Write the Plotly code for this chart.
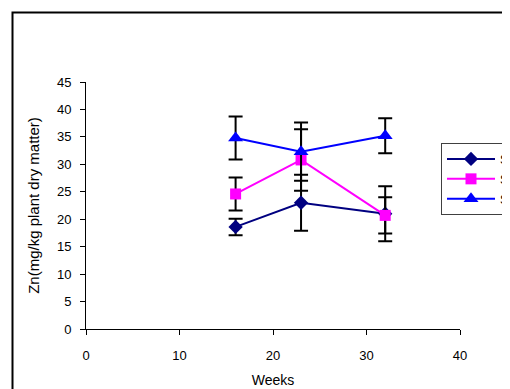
import plotly.graph_objects as go

weeks = [16, 23, 32]
names = ["Site 1", "Site 2", "Site 3"]
s1 = [18.6, 23.0, 21.0]
s1_err = [1.5, 5.1, 5.0]
s2 = [24.6, 30.8, 20.7]
s2_err = [3.0, 5.6, 3.3]
s3 = [34.8, 32.3, 35.2]
s3_err = [3.9, 5.3, 3.2]

x_ticks = [0, 10, 20, 30, 40]
y_ticks = [0, 5, 10, 15, 20, 25, 30, 35, 40, 45]

font = "Liberation Sans, Arial, sans-serif"

fig = go.Figure()
series = [
    (names[0], s1, s1_err, "#000080", "diamond", 11),
    (names[1], s2, s2_err, "#FF00FF", "square", 11),
    (names[2], s3, s3_err, "#0000FF", "triangle-up", 13),
]
for name, vals, errs, color, sym, size in series:
    fig.add_trace(go.Scatter(
        x=weeks, y=vals, name=name, mode="lines+markers",
        line=dict(color=color, width=2),
        marker=dict(symbol=sym, size=size, color=color),
        error_y=dict(type="data", array=errs, visible=True,
                     color="black", thickness=2, width=7),
    ))

# page has an 8px body margin; figure pixel = page pixel - 8
OFF = 8
W, H = 510, 389
L, R, T, B = 86 - OFF, W - (460 - OFF), 82 - OFF, H - (329 - OFF)
pw, ph = W - L - R, H - T - B

def px(xp):
    return (xp - OFF - L) / pw

def py(yp):
    return 1 - (yp - OFF - T) / ph

fig.update_layout(
    width=W, height=H,
    margin=dict(l=L, r=R, t=T, b=B, autoexpand=False),
    paper_bgcolor="white", plot_bgcolor="white",
    font=dict(family=font, size=13, color="black"),
    showlegend=True,
    legend=dict(
        x=px(441), y=py(143), xanchor="left", yanchor="top",
        bgcolor="white", bordercolor="#404040", borderwidth=1,
        font=dict(size=13, family=font), tracegroupgap=0, itemwidth=48,
    ),
    xaxis=dict(
        range=[0, 40], tickvals=x_ticks, showgrid=False, zeroline=False,
        showline=True, linecolor="black", linewidth=1,
        ticks="outside", ticklen=5, tickcolor="black",
        tickfont=dict(size=13), ticklabelstandoff=9,
        title=dict(text="Weeks", font=dict(size=14), standoff=13),
    ),
    yaxis=dict(
        range=[0, 45], tickvals=y_ticks, showgrid=False, zeroline=False,
        showline=True, linecolor="black", linewidth=1,
        ticks="outside", ticklen=5, tickcolor="black",
        tickfont=dict(size=13), ticklabelstandoff=6,
        title=dict(text="Zn(mg/kg plant dry matter)", font=dict(size=15), standoff=13),
    ),
    shapes=[dict(
        type="rect", xref="paper", yref="paper",
        x0=px(12.5), x1=px(509), y0=py(400), y1=py(12.5),
        line=dict(color="black", width=2), fillcolor="rgba(0,0,0,0)",
        layer="above",
    )],
)

fig.write_html("out.html")
